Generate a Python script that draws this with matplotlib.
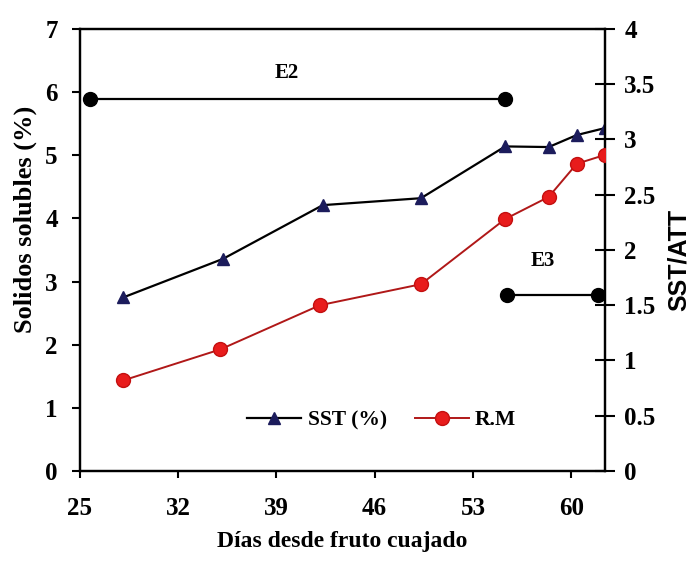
import matplotlib
matplotlib.use('Agg')
import matplotlib.pyplot as plt

# días desde fruto cuajado
dias_sst = [28.1, 35.2, 42.3, 49.3, 55.3, 58.4, 60.4, 62.4]
sst = [2.75, 3.36, 4.21, 4.32, 5.14, 5.13, 5.32, 5.43]

dias_rm = [28.1, 35.0, 42.1, 49.3, 55.3, 58.4, 60.4, 62.4]
rm = [0.82, 1.10, 1.50, 1.69, 2.28, 2.48, 2.78, 2.86]

# estados de madurez (eje derecho)
e2_x = [25.7, 55.3]
e2_y = [3.37, 3.37]
e3_x = [55.4, 61.9]
e3_y = [1.59, 1.59]

serif = 'Liberation Serif'

fig = plt.figure(figsize=(6.92, 5.64), dpi=100)
ax = fig.add_axes([0.1156, 0.165, 0.7584, 0.7836])
bx = ax.twinx()

l1, = ax.plot(dias_sst, sst, color='black', lw=1.6, marker='^', ms=9,
              mfc='#1c1c5c', mec='#1c1c5c', label='SST (%)', zorder=3)
l2, = bx.plot(dias_rm, rm, color='#b01818', lw=1.4, marker='o', ms=10,
              mfc='#e81c1c', mec='#c41010', label='R.M', zorder=3)
bx.plot(e2_x, e2_y, color='black', lw=1.6, marker='o', ms=10, zorder=3)
bx.plot(e3_x, e3_y, color='black', lw=1.6, marker='o', ms=10, zorder=3)

ax.text(39.7, 6.3, 'E2', fontsize=15, fontweight='bold', family=serif, ha='center', va='center')
bx.text(58.0, 1.9, 'E3', fontsize=15, fontweight='bold', family=serif, ha='center', va='center')

ax.set_xlim(25, 62.4)
ax.set_ylim(0, 7)
bx.set_ylim(0, 4)
ax.set_xticks([25, 32, 39, 46, 53, 60])
ax.set_yticks(range(0, 8))
bx.set_yticks([0, 0.5, 1, 1.5, 2, 2.5, 3, 3.5, 4])
bx.set_yticklabels(['0', '0.5', '1', '1.5', '2', '2.5', '3', '3.5', '4'])

for a in (ax, bx):
    for s in a.spines.values():
        s.set_linewidth(1.6)
    for lab in a.get_xticklabels() + a.get_yticklabels():
        lab.set_fontfamily(serif)
        lab.set_fontweight('bold')
        lab.set_fontsize(18)

ax.tick_params(axis='y', direction='out', length=6, width=1.5, pad=10)
ax.tick_params(axis='x', direction='out', length=5, width=1.5, pad=14)
bx.tick_params(axis='y', direction='inout', length=14, width=1.5, pad=7)

ax.set_xlabel('Días desde fruto cuajado', fontsize=17, fontweight='bold', family=serif, labelpad=8)
ax.set_ylabel('Solidos solubles (%)', fontsize=19, fontweight='bold', family=serif,
              labelpad=6, y=0.57)
bx.set_ylabel('SST/ATT', fontsize=18, fontweight='bold', family='Liberation Sans',
              labelpad=8, y=0.477)

ax.legend([l1, l2], ['SST (%)', 'R.M'], loc='center', bbox_to_anchor=(0.575, 0.115),
          ncol=2, frameon=False, handlelength=2.5, handletextpad=0.3, columnspacing=1.3,
          prop={'family': serif, 'weight': 'bold', 'size': 15.5})

fig.savefig('out.png', dpi=100)
